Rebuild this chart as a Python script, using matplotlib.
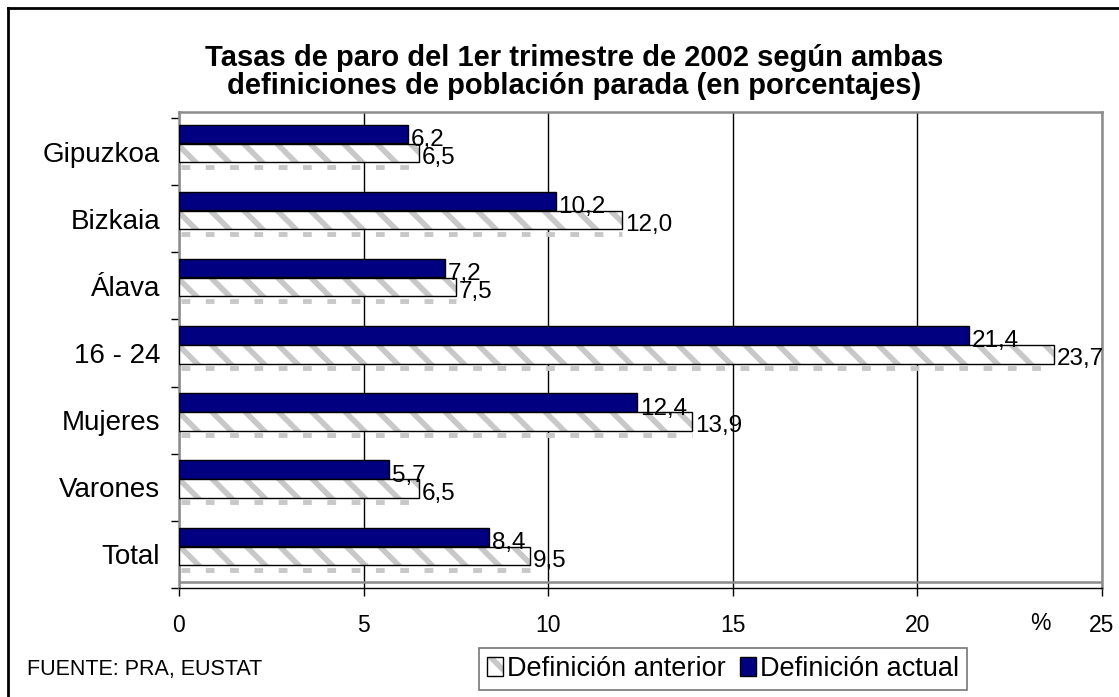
import matplotlib
matplotlib.use("Agg")
import matplotlib.pyplot as plt
from matplotlib.patches import Patch
from matplotlib.lines import Line2D
from matplotlib.ticker import FixedLocator
from matplotlib.legend_handler import HandlerTuple

categories = ["Gipuzkoa", "Bizkaia", "Álava", "16 - 24", "Mujeres", "Varones", "Total"]
actual = [6.2, 10.2, 7.2, 21.4, 12.4, 5.7, 8.4]
anterior = [6.5, 12.0, 7.5, 23.7, 13.9, 6.5, 9.5]
x_ticks = [0, 5, 10, 15, 20, 25]
title = "Tasas de paro del 1er trimestre de 2002 según ambas\ndefiniciones de población parada (en porcentajes)"
source = "FUENTE: PRA, EUSTAT"
label_actual = "Definición actual"
label_anterior = "Definición anterior"

plt.rcParams['font.family'] = ['Liberation Sans', 'DejaVu Sans']
plt.rcParams['hatch.linewidth'] = 4.0

W, H = 1119, 697
fig = plt.figure(figsize=(W / 100, H / 100), dpi=100)
ax = fig.add_axes([179 / W, 1 - 588 / H, (1102 - 179) / W, (588 - 112) / H])

navy = "#000080"
hatch_gray = "#c8c8c8"
bar_h = 0.275
n = len(categories)
pos = list(range(n))
y_act = [p - 0.262 for p in pos]
y_ant = [p + 0.02 for p in pos]
y_shadow = [p + 0.225 for p in pos]

ax.barh(y_act, actual, height=bar_h, color=navy, edgecolor="black", linewidth=1, zorder=3)
ax.barh(y_ant, anterior, height=bar_h, color="white", edgecolor=hatch_gray, hatch="\\",
        linewidth=0, zorder=3)
ax.barh(y_ant, anterior, height=bar_h, fill=False, edgecolor="black", linewidth=1, zorder=4)
for ys, v in zip(y_shadow, anterior):
    ax.hlines(ys, 0.05, v, colors=hatch_gray, linewidth=3.5, linestyles=(0, (1.8, 3.2)), zorder=2)

def fmt(v):
    return f"{v:.1f}".replace(".", ",")

for ys, v in zip(y_act, actual):
    ax.annotate(fmt(v), (v, ys), xytext=(3, -6), textcoords="offset pixels",
                ha="left", va="center", fontsize=17.5, zorder=5)
for ys, v in zip(y_ant, anterior):
    ax.annotate(fmt(v), (v, ys), xytext=(3, -5), textcoords="offset pixels",
                ha="left", va="center", fontsize=17.5, zorder=5)

ax.set_xlim(0, 25)
ax.set_ylim(6.5, -0.589)

ax.set_yticks(pos)
ax.set_yticklabels(categories, fontsize=20)
ax.yaxis.set_minor_locator(FixedLocator([p - 0.5 for p in pos] + [n - 0.5]))
ax.tick_params(axis="y", which="major", length=0, pad=13.5)
ax.tick_params(axis="y", which="minor", length=6, width=1, color="black", direction="out")

ax.set_xticks(x_ticks)
ax.set_xticklabels([str(t) for t in x_ticks], fontsize=16.5)
ax.tick_params(axis="x", which="major", length=5.5, width=1, color="black", pad=13)

ax.grid(axis="x", color="black", linewidth=1, zorder=1)
ax.set_axisbelow(True)

for s in ["top", "right", "left"]:
    ax.spines[s].set_color("#8c8c8c")
    ax.spines[s].set_linewidth(1.8)
ax.spines["bottom"].set_color("black")
ax.spines["bottom"].set_linewidth(1)
ax.axhline(6.41, color="#8c8c8c", linewidth=1.8, zorder=1)

fig.text(574 / W, 1 - 72 / H, title, ha="center", va="center", fontsize=21,
         fontweight="bold", linespacing=1.0)
fig.text(1040 / W, 1 - 623 / H, "%", ha="center", va="center", fontsize=16.5)
fig.text(27 / W, 1 - 670 / H, source, ha="left", va="center", fontsize=15.5)

h_ant = (Patch(facecolor="white", edgecolor=hatch_gray, hatch="\\", linewidth=0),
         Patch(fill=False, edgecolor="black", linewidth=1))
h_act = Patch(facecolor=navy, edgecolor="black", linewidth=1)
leg = fig.legend([h_ant, h_act], [label_anterior, label_actual], ncol=2,
                 loc="center", bbox_to_anchor=(723 / W, 1 - 669 / H),
                 fontsize=19.5, frameon=True, fancybox=False, shadow=False,
                 handlelength=0.6, handleheight=0.7, handletextpad=0.15,
                 columnspacing=0.5, borderpad=0.3, borderaxespad=0,
                 handler_map={tuple: HandlerTuple(ndivide=1, pad=0)})
leg.get_frame().set_edgecolor("#555555")
leg.get_frame().set_linewidth(1.2)

fig.add_artist(Line2D([8 / W, 8 / W], [0, 1 - 8 / H], color="black", linewidth=2))
fig.add_artist(Line2D([8 / W, 1], [1 - 8 / H, 1 - 8 / H], color="black", linewidth=2))

fig.savefig("out.png", dpi=100)
